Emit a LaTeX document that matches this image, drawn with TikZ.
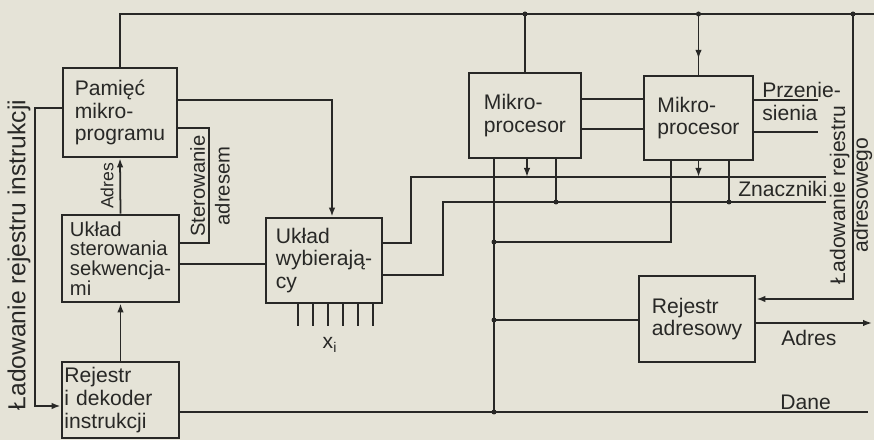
\documentclass[tikz,border=0pt]{standalone}
\usepackage{fontspec}
\setmainfont{Liberation Sans}
\usetikzlibrary{arrows.meta, positioning, decorations.markings}
\definecolor{ink}{RGB}{40,40,38}
\definecolor{paper}{RGB}{229,227,215}

\begin{document}
\begin{tikzpicture}[
        x=0.2mm, y=-0.2mm,
        box/.style={rectangle, draw=ink, line width=1.5pt, align=left, text=ink, font=\fontsize{12}{13}\selectfont},
        lbl/.style={text=ink, font=\fontsize{12}{13}\selectfont, inner sep=0pt},
        vlbl/.style={lbl, rotate=90, align=center},
        wire/.style={draw=ink, line width=1pt},
        arr/.style={wire, -{Latex[length=1.8mm, width=1.3mm]}},
        midarr/.style={wire, postaction={decorate}, decoration={markings, mark=at position #1 with {\arrow{Latex[length=1.8mm, width=1.3mm]}}}}
        ]
        \useasboundingbox (0,0) rectangle (874,440);
        \fill[paper] (0,0) rectangle (874,440);

        \node[box, minimum width=22.8mm, minimum height=17.8mm] (pm) at (120,112.5) {Pamięć\\mikro-\\programu};
        \node[box, minimum width=23.4mm, minimum height=17.4mm, inner ysep=0.5pt, font=\fontsize{11.5}{11.2}\selectfont] (us) at (120.5,258.5) {Układ\\sterowania\\sekwencja-\\mi};
        \node[box, minimum width=23.4mm, minimum height=15.2mm, text width=22.4mm, inner xsep=0.4mm, inner ysep=0.3mm] (rd) at (120.5,400) {Rejestr\\i dekoder\\instrukcji};
        \node[box, minimum width=23.2mm, minimum height=17mm] (uw) at (324,260.5) {Układ\\wybierają-\\cy};
        \node[box, minimum width=22.4mm, minimum height=17mm] (mp1) at (525,115.5) {Mikro-\\procesor};
        \node[box, minimum width=21.8mm, minimum height=16.8mm] (mp2) at (698.5,118) {Mikro-\\procesor};
        \node[box, minimum width=23.2mm, minimum height=17.2mm] (ra) at (697,319) {Rejestr\\adresowy};

        % free ends and junctions
        \coordinate (busE) at (874,14);
        \coordinate (ladA) at (853,14);
        \coordinate (j1) at (mp1.north |- busE);
        \coordinate (j2) at (mp2.north |- busE);
        \coordinate (jA) at (494,242);
        \coordinate (jR) at (494,320);
        \coordinate (jD) at (494,412);
        \coordinate (daneE) at (868,412);
        \coordinate (adrE) at (872,323);
        \coordinate (fl) at (826,177);
        \coordinate (fc) at (826,202);
        \coordinate (jF1) at (556,202);
        \coordinate (jF2) at (729,202);
        \coordinate (prA) at (818,100);
        \coordinate (prB) at (818,132);

        % top bus
        \draw[wire] (pm.north) |- (busE);
        \draw[wire] (mp1.north) -- (j1);
        \draw[midarr=0.74] (j2) -- (mp2.north);
        \draw[arr] (ladA) |- (ra.east |- 0,299);

        % microprocessors
        \draw[wire] (mp1.east |- 0,99) -- (mp2.west |- 0,99);
        \draw[wire] (mp1.east |- 0,129) -- (mp2.west |- 0,129);
        \draw[wire] (mp2.east |- prA) -- (prA);
        \draw[wire] (mp2.east |- prB) -- (prB);
        \draw[wire] (mp1.south -| jD) -- (jD);
        \draw[arr] (mp1.south -| 527,0) -- (527,0 |- fl);
        \draw[wire] (mp1.south -| jF1) -- (jF1);
        \draw[wire] (mp2.south -| 671,0) |- (jA);
        \draw[arr] (mp2.south) -- (mp2.south |- fl);
        \draw[wire] (mp2.south -| jF2) -- (jF2);

        % flags back to the selector
        \draw[wire] (uw.east |- 0,243) -| (411,0 |- fl) -- (fl);
        \draw[wire] (uw.east |- 0,275) -| (443,0 |- fc) -- (fc);

        % address register, data
        \draw[wire] (jR) -- (ra.west |- jR);
        \draw[arr] (ra.east |- adrE) -- (adrE);
        \draw[wire] (rd.east |- jD) -- (daneE);

        % left part
        \draw[arr] (pm.east |- 0,100) -| (uw.north -| 332,0);
        \draw[wire] (pm.east |- 0,128) -| (209,190) |- (us.east |- 0,243);
        \draw[arr] (us.north) -- (pm.south);
        \draw[arr] (rd.north) -- (us.south);
        \draw[wire] (us.east |- 0,264) -- (uw.west |- 0,264);
        \draw[arr] (pm.west |- 0,108) -| (35,300) |- (rd.west |- 0,406);
        \foreach \xx in {298,313,...,373}
            \draw[wire] (uw.south -| \xx,0) -- ++(0,22);

        \foreach \p in {j1,j2,ladA,jA,jR,jD,jF1,jF2}
            \fill[ink] (\p) circle[radius=0.5mm];

        % labels
        \node[vlbl, font=\fontsize{14}{16}\selectfont] (ladItxt) at (19,255) {Ładowanie rejestru instrukcji};
        \node[vlbl, font=\fontsize{10}{12}\selectfont] (adrVtxt) at (107,186) {Adres};
        \node[vlbl, font=\fontsize{11.5}{14}\selectfont] (sttxt) at (210,186) {Sterowanie\\adresem};
        \node[lbl] (xitxt) at (330,345) {x\textsubscript{i}};
        \node[lbl, anchor=north west, align=left] (prtxt) at (762,82) {Przenie-\\sienia};
        \node[lbl, anchor=base west] (zntxt) at (738,197) {Znaczniki};
        \node[vlbl, font=\fontsize{12}{13}\selectfont] (ladAtxt) at (851,195) {Ładowanie rejestru\\adresowego};
        \node[lbl, anchor=base west] (adtxt) at (781,346) {Adres};
        \node[lbl, anchor=base west] (dntxt) at (780,410) {Dane};
    \end{tikzpicture}
\end{document}
